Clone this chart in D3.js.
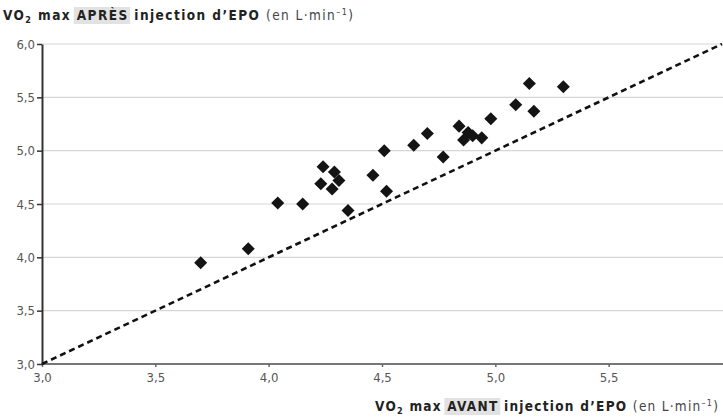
<!DOCTYPE html>
<html>
<head>
<meta charset="utf-8">
<script src="https://cdn.jsdelivr.net/npm/d3@7"></script>
<style>
  body { margin: 0; background: #fff; }
  svg { display: block; }
  text { font-family: 'DejaVu Sans Condensed', 'Liberation Sans Narrow', sans-serif; }
</style>
</head>
<body>
<div id="chart"></div>
<script>
// VO2 max before (x) and after (y) EPO injection, L/min
const avant = [3.70, 3.91, 4.04, 4.15, 4.24, 4.29, 4.31, 4.23, 4.28, 4.35, 4.46, 4.51, 4.52,
               4.64, 4.70, 4.77, 4.84, 4.88, 4.86, 4.90, 4.94, 4.98, 5.09, 5.15, 5.17, 5.30]
const apres = [3.95, 4.08, 4.51, 4.50, 4.85, 4.80, 4.72, 4.69, 4.64, 4.44, 4.77, 5.00, 4.62,
               5.05, 5.16, 4.94, 5.23, 5.17, 5.10, 5.14, 5.12, 5.30, 5.43, 5.63, 5.37, 5.60]
const xTicks = [3.0, 3.5, 4.0, 4.5, 5.0, 5.5]
const yTicks = [3.0, 3.5, 4.0, 4.5, 5.0, 5.5, 6.0]
const identity = [3.0, 6.0]

const width = 723, height = 419
const margin = {top: 44, right: 1, bottom: 55, left: 42}

const svg = d3.select('#chart').append('svg')
  .attr('width', width)
  .attr('height', height)

let x = d3.scaleLinear().domain([3, 6]).range([margin.left, width - margin.right])
let y = d3.scaleLinear().domain([3, 6]).range([height - margin.bottom, margin.top])
let fmt = d => d3.format('.1f')(d).replace('.', ',')

// gridlines
svg.append('g').selectAll('line')
  .data(yTicks.slice(1))
  .enter().append('line')
  .attr('x1', margin.left).attr('x2', width)
  .attr('y1', d => y(d)).attr('y2', d => y(d))
  .attr('stroke', '#d6d6d6')
  .attr('stroke-width', 1.2)

// x axis
let xAxis = svg.append('g')
  .attr('transform', 'translate(0,' + y(3) + ')')
  .call(d3.axisBottom(x).tickValues(xTicks).tickFormat(fmt).tickSize(3).tickSizeOuter(0))
xAxis.select('.domain').attr('stroke', '#777').attr('stroke-width', 2)
  .attr('d', 'M' + margin.left + ',0H' + width)
xAxis.selectAll('.tick line').attr('stroke', '#666').attr('stroke-width', 1.5)
xAxis.selectAll('.tick text').attr('fill', '#555').attr('font-size', 13).attr('dy', '0.95em')

// y axis
let yAxis = svg.append('g')
  .attr('transform', 'translate(' + margin.left + ',0)')
  .call(d3.axisLeft(y).tickValues(yTicks).tickFormat(fmt).tickSize(5).tickSizeOuter(0))
yAxis.select('.domain').attr('stroke', '#333').attr('stroke-width', 2)
yAxis.selectAll('.tick line').attr('stroke', '#333').attr('stroke-width', 1.5)
yAxis.selectAll('.tick text').attr('fill', '#555').attr('font-size', 13).attr('x', -7)

// identity line y = x
svg.append('path')
  .datum(identity)
  .attr('d', d3.line().x(d => x(d)).y(d => y(d)))
  .attr('stroke', '#111')
  .attr('stroke-width', 2.6)
  .attr('stroke-dasharray', '6 4')
  .attr('fill', 'none')

// points
let diamond = d3.symbol().type(d3.symbolSquare).size(85)
svg.append('g').selectAll('path')
  .data(avant.map((a, i) => [a, apres[i]]))
  .enter().append('path')
  .attr('d', diamond)
  .attr('transform', d => 'translate(' + x(d[0]) + ',' + y(d[1]) + ') rotate(45)')
  .attr('fill', '#141414')

// axis titles with highlighted word
function axisTitle(xPos, yPos, word, span) {
  let g = svg.append('g')
  let bg = g.append('rect').attr('fill', '#e2e2e2')
  let t = g.append('text').attr('x', xPos).attr('y', yPos)
    .attr('font-size', 13.5).attr('fill', '#222')
  t.append('tspan').attr('font-weight', 'bold').text('VO')
  t.append('tspan').attr('font-weight', 'bold').attr('font-size', 9).attr('dy', 3).text('2')
  t.append('tspan').attr('font-weight', 'bold').attr('dy', -3).text(' max  ')
  let hw = t.append('tspan').attr('font-weight', 'bold').text(word)
  t.append('tspan').attr('font-weight', 'bold').text('  injection d\u2019EPO ')
  t.append('tspan').attr('fill', '#444').text('(en L\u00b7min')
  t.append('tspan').attr('fill', '#444').attr('font-size', 9).attr('dy', -5).text('\u20131')
  t.append('tspan').attr('fill', '#444').attr('dy', 5).text(')')
  t.attr('textLength', span).attr('lengthAdjust', 'spacing')
  let n = hw.node()
  let start = n.getStartPositionOfChar(0), end = n.getEndPositionOfChar(word.length - 1)
  bg.attr('x', start.x - 3).attr('y', yPos - 13)
    .attr('width', end.x - start.x + 6).attr('height', 17)
}
axisTitle(3, 20, 'APR\u00c8S', 350)
axisTitle(375, 411, 'AVANT', 343)
</script>
</body>
</html>
